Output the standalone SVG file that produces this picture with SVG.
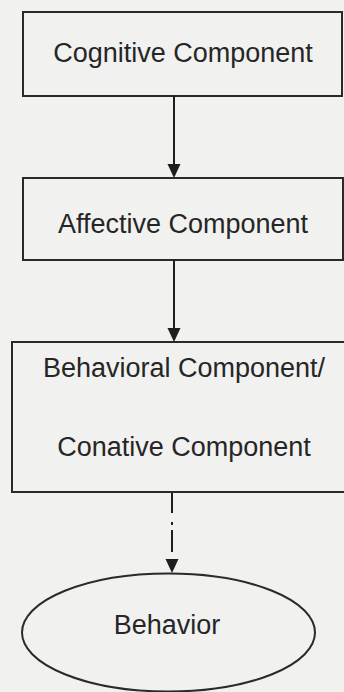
<svg xmlns="http://www.w3.org/2000/svg" xmlns:xlink="http://www.w3.org/1999/xlink" width="344" height="692" viewBox="0 0 344 692">
<style>
.box{fill:#f1f1f0;stroke:#2a2a2a;stroke-width:2}
.lbl{font-family:"Liberation Sans",Arial,sans-serif;font-size:27px;fill:#262626;text-anchor:middle}
.conn{stroke:#1e1e1e;stroke-width:2;fill:none}
.head{fill:#1e1e1e}
</style>
<defs>
<path id="head" class="head" d="M-6.5,-14 L6.5,-14 L0,0 Z"/>
</defs>
<rect x="0" y="0" width="344" height="692" fill="#f1f1f0"/>
<g id="cognitive">
<rect class="box" x="23" y="12" width="319" height="84"/>
<text class="lbl" x="183" y="62">Cognitive Component</text>
</g>
<g id="affective">
<rect class="box" x="23" y="178" width="320" height="82"/>
<text class="lbl" x="183" y="233">Affective Component</text>
</g>
<g id="behavioral">
<rect class="box" x="12" y="342" width="340" height="150"/>
<text class="lbl" x="184" y="377">Behavioral Component/</text>
<text class="lbl" x="184" y="456">Conative Component</text>
</g>
<g id="behavior">
<ellipse class="box" cx="168.5" cy="632.5" rx="146.5" ry="59"/>
<text class="lbl" x="167" y="634">Behavior</text>
</g>
<g id="connectors">
<line class="conn" x1="174" y1="96" x2="174" y2="165"/>
<use xlink:href="#head" href="#head" x="174" y="178"/>
<line class="conn" x1="174" y1="260" x2="174" y2="329"/>
<use xlink:href="#head" href="#head" x="174" y="342"/>
<line class="conn" x1="172" y1="493" x2="172" y2="513"/>
<line class="conn" x1="172" y1="522" x2="172" y2="525"/>
<line class="conn" x1="172" y1="530" x2="172" y2="552"/>
<use xlink:href="#head" href="#head" x="172" y="573"/>
</g>
</svg>
